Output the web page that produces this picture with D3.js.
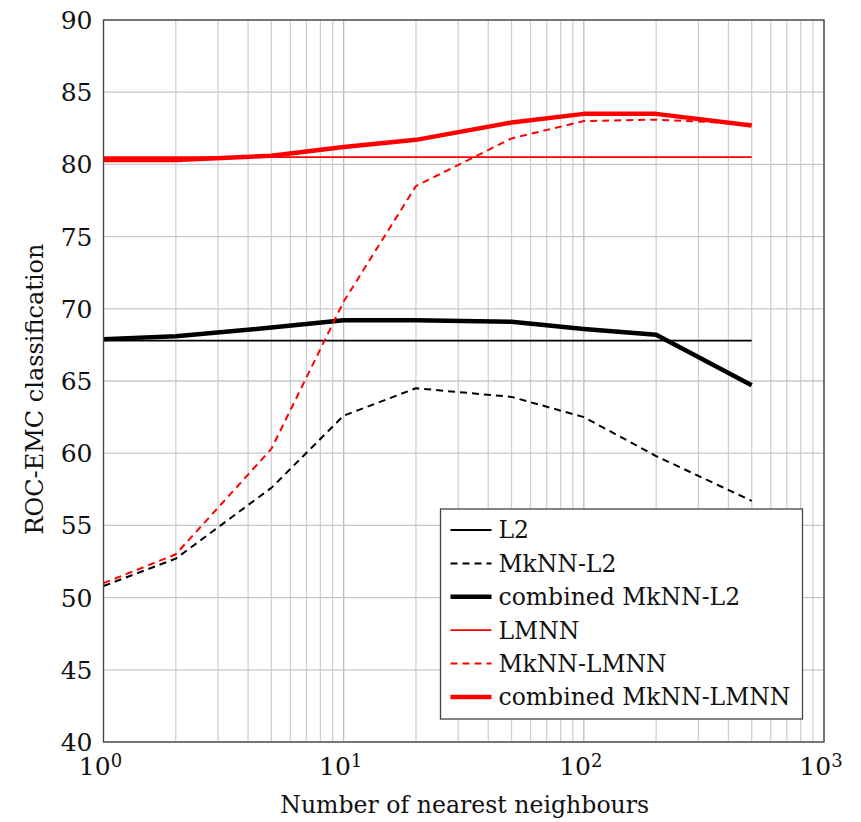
<!DOCTYPE html>
<html>
<head>
<meta charset="utf-8">
<script src="https://cdn.jsdelivr.net/npm/d3@7"></script>
<style>
  body { margin: 0; background: #fff; }
  svg text { font-family: "DejaVu Serif", serif; fill: #111; }
</style>
</head>
<body>
<div id="d3-container"></div>
<script>
// data
const neighbours = [1, 2, 5, 10, 20, 50, 100, 200, 500];
const l2 = [67.8, 67.8, 67.8, 67.8, 67.8, 67.8, 67.8, 67.8, 67.8];
const mknnL2 = [50.8, 52.7, 57.6, 62.6, 64.5, 63.9, 62.5, 59.8, 56.7];
const combinedL2 = [67.9, 68.1, 68.7, 69.2, 69.2, 69.1, 68.6, 68.2, 64.7];
const lmnn = [80.5, 80.5, 80.5, 80.5, 80.5, 80.5, 80.5, 80.5, 80.5];
const mknnLmnn = [51.0, 53.0, 60.3, 70.5, 78.5, 81.8, 83.0, 83.1, 82.8];
const combinedLmnn = [80.3, 80.3, 80.6, 81.2, 81.7, 82.9, 83.5, 83.5, 82.7];
const yTicks = [40, 45, 50, 55, 60, 65, 70, 75, 80, 85, 90];
const xTicks = [1, 10, 100, 1000];

const seriesNames = ["L2", "MkNN-L2", "combined MkNN-L2", "LMNN", "MkNN-LMNN", "combined MkNN-LMNN"];
const seriesValues = [l2, mknnL2, combinedL2, lmnn, mknnLmnn, combinedLmnn];
const seriesStyle = [
  { color: "#000", width: 1.8, dash: null },
  { color: "#000", width: 2.0, dash: "7,5" },
  { color: "#000", width: 4.5, dash: null },
  { color: "#f00", width: 1.8, dash: null },
  { color: "#f00", width: 2.0, dash: "7,5" },
  { color: "#f00", width: 4.5, dash: null }
];

const width = 861;
const height = 822;
const margin = { top: 20, bottom: 80, left: 103.5, right: 37 };

const svg = d3.select('#d3-container')
  .append('svg')
  .attr('width', width)
  .attr('height', height);

const x = d3.scaleLog()
  .domain([1, 1000])
  .range([margin.left, width - margin.right]);

const y = d3.scaleLinear()
  .domain([40, 90])
  .range([height - margin.bottom, margin.top]);

// grid
const minor = [];
for (let p = 1; p < 1000; p *= 10) {
  for (let k = 2; k <= 9; k++) minor.push(p * k);
}
svg.append("g")
  .attr("stroke", "#d0d0d0")
  .attr("stroke-width", 1.3)
  .selectAll("line")
  .data(minor)
  .join("line")
  .attr("x1", d => x(d)).attr("x2", d => x(d))
  .attr("y1", y(40)).attr("y2", y(90));

svg.append("g")
  .attr("stroke", "#bcbcbc")
  .attr("stroke-width", 1.3)
  .selectAll("line")
  .data(xTicks)
  .join("line")
  .attr("x1", d => x(d)).attr("x2", d => x(d))
  .attr("y1", y(40)).attr("y2", y(90));

svg.append("g")
  .attr("stroke", "#c8c8c8")
  .attr("stroke-width", 1.3)
  .selectAll("line")
  .data(yTicks)
  .join("line")
  .attr("x1", x(1)).attr("x2", x(1000))
  .attr("y1", d => y(d)).attr("y2", d => y(d));

// lines
const line = d3.line()
  .x(d => x(d[0]))
  .y(d => y(d[1]));

seriesValues.forEach((vals, i) => {
  const s = seriesStyle[i];
  svg.append("path")
    .datum(neighbours.map((n, j) => [n, vals[j]]))
    .attr("fill", "none")
    .attr("stroke", s.color)
    .attr("stroke-width", s.width)
    .attr("stroke-dasharray", s.dash)
    .attr("stroke-linejoin", "round")
    .attr("d", line);
});

// frame
svg.append("rect")
  .attr("x", x(1)).attr("y", y(90))
  .attr("width", x(1000) - x(1))
  .attr("height", y(40) - y(90))
  .attr("fill", "none")
  .attr("stroke", "#444")
  .attr("stroke-width", 1.3);

// y tick labels
svg.append("g")
  .selectAll("text")
  .data(yTicks)
  .join("text")
  .attr("x", x(1) - 11)
  .attr("y", d => y(d))
  .attr("dy", "0.36em")
  .attr("text-anchor", "end")
  .attr("font-size", "25px")
  .text(d => d);

// x tick labels 10^k
const xl = svg.append("g")
  .selectAll("text")
  .data(xTicks)
  .join("text")
  .attr("x", d => x(d) - 3)
  .attr("y", y(40) + 33)
  .attr("text-anchor", "middle")
  .attr("font-size", "25px");
xl.append("tspan").text("10");
xl.append("tspan")
  .attr("dy", "-0.45em")
  .attr("font-size", "18px")
  .text(d => Math.round(Math.log10(d)));

// axis labels
svg.append("text")
  .attr("x", (x(1) + x(1000)) / 2 + 1)
  .attr("y", 813)
  .attr("text-anchor", "middle")
  .attr("font-size", "23.6px")
  .text("Number of nearest neighbours");

svg.append("text")
  .attr("transform", `translate(43, ${(y(40) + y(90)) / 2 + 8}) rotate(-90)`)
  .attr("text-anchor", "middle")
  .attr("font-size", "24px")
  .text("ROC-EMC classification");

// legend
const lg = svg.append("g").attr("transform", "translate(440.5, 509)");
lg.append("rect")
  .attr("width", 362)
  .attr("height", 210)
  .attr("fill", "#fff")
  .attr("stroke", "#444")
  .attr("stroke-width", 1.3);

const rows = lg.selectAll("g")
  .data(seriesNames)
  .join("g")
  .attr("transform", (d, i) => `translate(0, ${21 + i * 33.4})`);

rows.append("line")
  .attr("x1", 10).attr("x2", 51)
  .attr("stroke", (d, i) => seriesStyle[i].color)
  .attr("stroke-width", (d, i) => seriesStyle[i].width)
  .attr("stroke-dasharray", (d, i) => seriesStyle[i].dash);

rows.append("text")
  .attr("x", 58)
  .attr("dy", "0.36em")
  .attr("font-size", "23.5px")
  .text(d => d);
</script>
</body>
</html>
